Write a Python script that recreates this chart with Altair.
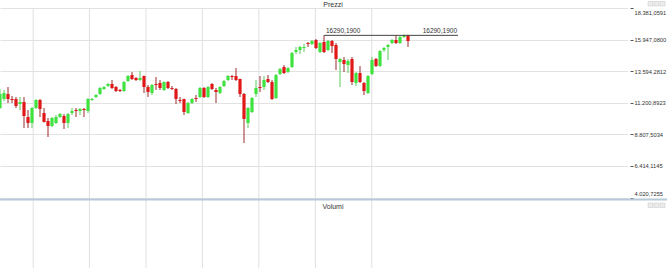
import altair as alt
import pandas as pd

# ---- data (prices) ----
opens = [10796, 11477, 11855, 11477, 11477, 11099, 11250, 10116, 9662, 10796,
         11401, 10418, 9813, 9435, 9662, 10116, 10191, 9662, 10418, 10645,
         10569, 10721, 10569, 11401, 11628, 11855, 12233, 12459, 12611, 12384,
         12157, 12081, 12837, 13291, 13064, 12913, 13215, 12384, 11930, 12611,
         12686, 12157, 12762, 12308, 12233, 11401, 11477, 10418, 11174, 11552,
         11628, 12308, 11628, 12611, 12157, 11930, 12459, 12913, 13215, 13215,
         12989, 11855, 9662, 10494, 11855, 12384, 12384, 12989, 12762, 11552,
         13367, 13896, 13518, 13896, 15030, 15181, 15332, 15710, 15635, 15937,
         15030, 15786, 15181, 15861, 15559, 14274, 14425, 14047, 14501, 12686,
         13442, 12686, 11930, 13367, 14501, 13971, 15181, 15408, 15710, 15937,
         15710, 16164, 16290]
highs = [12233, 12157, 12384, 11703, 11628, 11628, 11628, 10645, 10872, 11477,
         11477, 10796, 10040, 10116, 10267, 10418, 10343, 10418, 10796, 10796,
         10796, 10796, 11552, 11552, 11855, 12384, 12459, 12686, 12913, 12459,
         12233, 12837, 13291, 13518, 13140, 13593, 13250, 12535, 12611, 13140,
         12913, 12800, 12837, 12459, 12308, 11628, 11500, 11250, 11552, 11779,
         12384, 12384, 12459, 12686, 12308, 12459, 12913, 13291, 13291, 13820,
         13020, 11930, 10872, 11628, 12913, 13215, 13215, 13291, 12913, 13367,
         13820, 14047, 13896, 15030, 15408, 15483, 15635, 15786, 15937, 16013,
         15786, 16290.19, 15937, 15937, 15710, 14576, 14652, 14501, 14652, 13518,
         13971, 12762, 13291, 14652, 14576, 15181, 15408, 15635, 16013, 16290,
         16240, 16360, 16330]
lows = [10721, 11325, 11174, 11174, 10796, 10645, 9284, 9284, 9284, 10721,
        10116, 9700, 8604, 9360, 9587, 10040, 9209, 9284, 10267, 10116,
        10267, 10116, 10418, 11325, 11552, 11779, 12157, 12384, 12233, 12006,
        12006, 12006, 12762, 12913, 12837, 12837, 11930, 11628, 11779, 12157,
        12157, 12081, 12233, 12157, 11099, 11174, 10267, 10343, 11099, 11250,
        11552, 11552, 11552, 12157, 11174, 11855, 12384, 12837, 12913, 12837,
        11628, 8150, 9284, 10418, 11628, 12006, 12157, 12686, 11401, 11477,
        13291, 13367, 13442, 13820, 14879, 14879, 15030, 15408, 15559, 15257,
        14954, 14954, 15105, 14954, 13669, 12384, 13518, 13442, 12535, 12459,
        12686, 11779, 11855, 13291, 13896, 13896, 15030, 14425, 15635, 15635,
        15635, 16090, 15408]
closes = [11855, 11930, 11477, 11401, 10947, 11250, 10191, 9662, 10796, 11401,
          10721, 9738, 9435, 10040, 10116, 10343, 9662, 10343, 10569, 10569,
          10721, 10645, 11477, 11477, 11779, 12308, 12384, 12611, 12308, 12081,
          12081, 12762, 13215, 12989, 12913, 13064, 12384, 12006, 12535, 12535,
          12308, 12762, 12308, 12233, 11477, 11325, 10494, 11174, 11477, 11477,
          12308, 11628, 12384, 12233, 12006, 12384, 12837, 13215, 13140, 12913,
          11855, 9965, 10796, 11552, 12308, 12308, 12913, 12762, 11477, 13291,
          13745, 13442, 13820, 14954, 15181, 15408, 15408, 15635, 15861, 15332,
          15710, 15030, 15861, 15483, 14501, 14501, 14123, 14349, 12762, 13442,
          12762, 12081, 13215, 14425, 13971, 15105, 15332, 15559, 15937, 15710,
          16164, 16290, 15860]

tick_values = [4020.7255, 6414.1145, 8807.5034, 11200.8923, 13594.2812, 15947.0800, 18381.0591]
grid_x = [8.3, 22.35, 36.5, 50.6, 64.7, 78.85, 92.95]
panel_titles = ["Prezzi", "Volumi"]
max_start = [81]
max_price = [16290.19]
max_label = ["16290,1900"]

FONT = "Liberation Sans"
W, H = 628, 268

df = pd.DataFrame({"i": list(range(len(opens))), "open": opens, "high": highs,
                   "low": lows, "close": closes})
df["dir"] = ["up" if c >= o else "down" for o, c in zip(opens, closes)]

xscale = alt.Scale(domain=[0, W / 4], range=[0, W], nice=False, zero=False)
yscale = alt.Scale(domain=[tick_values[0], tick_values[-1]], range=[197.6, 7.7],
                   nice=False, zero=False)

yaxis = alt.Axis(orient="right", values=tick_values, grid=True, gridColor="#e2e2e2",
                 gridWidth=1, domain=False, tickSize=3, offset=2, tickColor="#555",
                 labelPadding=1, labelFlush=True, labelFlushOffset=-1.5,
                 labelFont=FONT, labelFontSize=5.7,
                 labelColor="#333", title=None,
                 labelExpr="replace(replace(replace(format(datum.value, ',.4f'), ',', '_'), '.', ','), '_', '.')")

base = alt.Chart(df)

vgrid = alt.Chart(pd.DataFrame({"gx": grid_x})).mark_rule(color="#e0e0e0", strokeWidth=1).encode(
    x=alt.X("gx:Q", scale=xscale, axis=None),
    y=alt.value(8), y2=alt.value(H))

wicks = base.mark_rule(strokeWidth=1).encode(
    x=alt.X("i:Q", scale=xscale, axis=None),
    y=alt.Y("low:Q", scale=yscale, axis=yaxis),
    y2="high:Q",
    color=alt.Color("dir:N", scale=alt.Scale(domain=["up", "down"], range=["#5cc85c", "#9a2a2a"]), legend=None))

bodies = base.transform_calculate(
    x0="datum.i - 0.4", x1="datum.i + 0.4",
    b0="min(datum.open, datum.close)", b1="max(datum.open, datum.close)"
).mark_rect().encode(
    x=alt.X("x0:Q", scale=xscale, axis=None),
    x2="x1:Q",
    y=alt.Y("b0:Q", scale=yscale, axis=yaxis),
    y2="b1:Q",
    fill=alt.Fill("dir:N", scale=alt.Scale(domain=["up", "down"], range=["#3ee33e", "#e01818"]), legend=None))

mdf = pd.DataFrame({"s": max_start, "p": max_price, "lab": max_label})
maxline = alt.Chart(mdf).mark_rule(color="#444", strokeWidth=1).encode(
    x=alt.X("s:Q", scale=xscale, axis=None), x2=alt.value(458),
    y=alt.Y("p:Q", scale=yscale, axis=yaxis))
maxlab1 = alt.Chart(mdf).mark_text(align="left", baseline="bottom", dx=2, dy=-1,
                                   font=FONT, fontSize=6.5, color="#333").encode(
    x=alt.X("s:Q", scale=xscale, axis=None),
    y=alt.Y("p:Q", scale=yscale, axis=yaxis), text="lab:N")
maxlab2 = alt.Chart(mdf).mark_text(align="right", baseline="bottom", dy=-1,
                                   font=FONT, fontSize=6.5, color="#333").encode(
    x=alt.value(457),
    y=alt.Y("p:Q", scale=yscale, axis=yaxis), text="lab:N")

sep = alt.Chart(pd.DataFrame({"a": [0]})).mark_rule(color="#b7c8d8", strokeWidth=2).encode(
    x=alt.value(0), x2=alt.value(667), y=alt.value(199.5))

t1 = alt.Chart(pd.DataFrame({"t": [panel_titles[0]]})).mark_text(
    font=FONT, fontSize=7, color="#333", baseline="middle").encode(
    x=alt.value(333), y=alt.value(4.5), text="t:N")
t2 = alt.Chart(pd.DataFrame({"t": [panel_titles[1]]})).mark_text(
    font=FONT, fontSize=7, color="#333", baseline="middle").encode(
    x=alt.value(333), y=alt.value(207), text="t:N")

icons = []
for yy in (1.5, 203):
    for xx in (648, 654, 660):
        icons.append(alt.Chart(pd.DataFrame({"a": [0]})).mark_rect(
            fill="#ececec", stroke="#c4c4c4", strokeWidth=0.5).encode(
            x=alt.value(xx), x2=alt.value(xx + 5), y=alt.value(yy), y2=alt.value(yy + 4.5)))

chart = alt.layer(vgrid, wicks, bodies, maxline, maxlab1, maxlab2, sep, t1, t2, *icons).properties(
    width=W, height=H,
    padding={"left": 0, "top": 0, "right": 39, "bottom": 0},
    autosize=alt.AutoSizeParams(type="none"),
    background="white",
).configure_view(strokeWidth=0)

chart.save("out.html", embed_options={"renderer": "svg", "actions": False})
